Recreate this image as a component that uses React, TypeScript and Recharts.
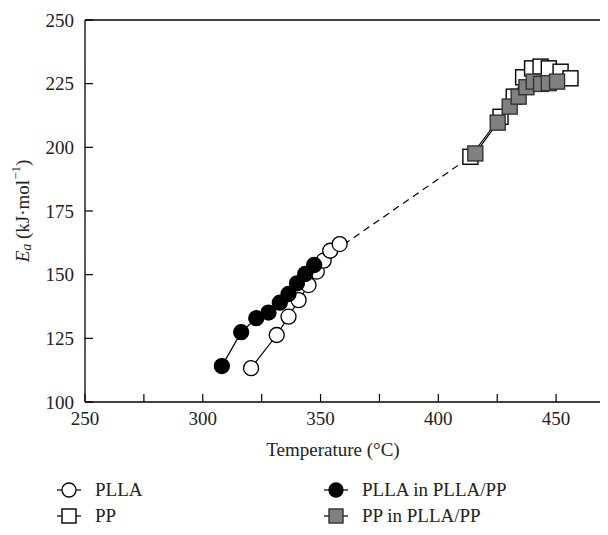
import { ScatterChart, Scatter, XAxis, YAxis, ReferenceLine } from 'recharts';

const FONT = '"Liberation Serif", "DejaVu Serif", serif';

// temperature (°C) / activation energy (kJ/mol)
const pllaT = [320.5, 331.4, 336.4, 340.7, 344.9, 348.4, 351.3, 354.1, 358.1];
const pllaEa = [113.3, 126.3, 133.5, 140.0, 145.9, 151.2, 155.5, 159.4, 162.0];
const ppT = [413.6, 426.4, 432.0, 436.0, 439.8, 443.4, 446.9, 451.9, 456.1];
const ppEa = [196.3, 212.0, 219.9, 227.5, 231.0, 231.7, 231.0, 229.7, 227.1];
const blendPllaT = [308.1, 316.3, 322.7, 327.9, 332.7, 336.4, 340.0, 343.5, 347.3];
const blendPllaEa = [114.1, 127.4, 132.9, 135.1, 139.0, 142.4, 146.6, 150.3, 153.8];
const blendPpT = [415.7, 425.2, 430.3, 434.1, 437.4, 440.5, 443.6, 446.9, 450.4];
const blendPpEa = [197.6, 209.7, 216.0, 219.9, 223.6, 225.8, 224.9, 225.2, 225.8];

const xTicks = [250, 275, 300, 325, 350, 375, 400, 425, 450, 475];
const yTicks = [100, 125, 150, 175, 200, 225, 250];

const toPoints = (xs: number[], ys: number[]) => xs.map((x, i) => ({ x, y: ys[i] }));

const pllaData = toPoints(pllaT, pllaEa);
const ppData = toPoints(ppT, ppEa);
const blendPllaData = toPoints(blendPllaT, blendPllaEa);
const blendPpData = toPoints(blendPpT, blendPpEa);
// dashed bridge between the two blend components
const bridgeData = [blendPllaData[blendPllaData.length - 1], blendPpData[0]];

const R = 7.5;
const FS = 19;

const circle = (fill: string) => (p: any) => (
  <circle cx={p.cx} cy={p.cy} r={R} fill={fill} stroke="#000" strokeWidth={1.3} />
);
const square = (fill: string, stroke: string) => (p: any) => (
  <rect x={p.cx - R} y={p.cy - R} width={R * 2} height={R * 2} fill={fill} stroke={stroke} strokeWidth={1.4} />
);

const lineStyle = { stroke: '#000', strokeWidth: 1.2 };

function YLabel(props: any) {
  const vb = props.viewBox || {};
  const cx = 14;
  const cy = (vb.y ?? 12) + (vb.height ?? 382) / 2;
  return (
    <text
      x={cx}
      y={cy}
      transform={`rotate(-90 ${cx} ${cy})`}
      textAnchor="middle"
      dominantBaseline="central"
      fontFamily={FONT}
      fontSize={FS}
      fill="#222"
    >
      <tspan fontStyle="italic">E</tspan>
      <tspan fontStyle="italic" fontSize={14} dy={4}>a</tspan>
      <tspan dy={-4}>{' (kJ·mol'}</tspan>
      <tspan fontSize={13} dy={-7}>−1</tspan>
      <tspan dy={7}>)</tspan>
    </text>
  );
}

function XLabel() {
  return (
    <text x={325} y={448} textAnchor="middle" fontFamily={FONT} fontSize={FS} fill="#222">
      Temperature (°C)
    </text>
  );
}

function LegendIcon({ kind, fill }: { kind: 'circle' | 'square'; fill: string }) {
  return (
    <svg width={26} height={18} style={{ display: 'block' }}>
      <line x1={1} y1={9} x2={25} y2={9} stroke="#000" strokeWidth={1.2} />
      {kind === 'circle' ? (
        <circle cx={13} cy={9} r={7} fill={fill} stroke="#000" strokeWidth={1.3} />
      ) : (
        <rect x={6} y={2} width={14} height={14} fill={fill} stroke={fill === '#fff' ? '#000' : '#333'} strokeWidth={1.4} />
      )}
    </svg>
  );
}

const legendItems = [
  { name: 'PLLA', kind: 'circle' as const, fill: '#fff', left: 48, top: 473 },
  { name: 'PP', kind: 'square' as const, fill: '#fff', left: 48, top: 499 },
  { name: 'PLLA in PLLA/PP', kind: 'circle' as const, fill: '#000', left: 315, top: 473 },
  { name: 'PP in PLLA/PP', kind: 'square' as const, fill: '#808080', left: 315, top: 499 },
];

export default function App() {
  return (
    <div style={{ position: 'relative', width: 600, height: 527, overflow: 'hidden', background: '#fff' }}>
      <ScatterChart width={620} height={470} margin={{ top: 12, right: 13, bottom: 0, left: 0 }}>
        <XAxis
          type="number"
          dataKey="x"
          domain={[250, 475]}
          ticks={xTicks}
          interval={0}
          tickFormatter={(v) => (v % 50 === 0 ? String(v) : '')}
          tickSize={-8}
          tickMargin={18}
          height={76}
          axisLine={{ stroke: '#000', strokeWidth: 1.3 }}
          tickLine={{ stroke: '#000', strokeWidth: 1.2 }}
          tick={{ fontFamily: FONT, fontSize: FS, fill: '#222' }}
          label={<XLabel />}
        />
        <YAxis
          type="number"
          dataKey="y"
          domain={[100, 250]}
          ticks={yTicks}
          interval={0}
          tickSize={-8}
          tickMargin={19}
          width={77}
          axisLine={{ stroke: '#000', strokeWidth: 1.3 }}
          tickLine={{ stroke: '#000', strokeWidth: 1.2 }}
          tick={{ fontFamily: FONT, fontSize: FS, fill: '#222' }}
          label={<YLabel />}
        />
        <ReferenceLine y={250} stroke="#000" strokeWidth={1.3} />
        <ReferenceLine x={475} stroke="#000" strokeWidth={1.3} />
        <Scatter
          data={bridgeData}
          line={{ ...lineStyle, strokeDasharray: '7 5' }}
          lineType="joint"
          shape={() => <g />}
          isAnimationActive={false}
        />
        <Scatter data={pllaData} line={lineStyle} lineType="joint" shape={circle('#fff')} isAnimationActive={false} />
        <Scatter data={blendPllaData} line={lineStyle} lineType="joint" shape={circle('#000')} isAnimationActive={false} />
        <Scatter data={ppData} line={lineStyle} lineType="joint" shape={square('#fff', '#000')} isAnimationActive={false} />
        <Scatter data={blendPpData} line={lineStyle} lineType="joint" shape={square('#808080', '#333')} isAnimationActive={false} />
      </ScatterChart>
      {legendItems.map((it) => (
        <div
          key={it.name}
          style={{
            position: 'absolute',
            left: it.left,
            top: it.top,
            height: 18,
            display: 'flex',
            alignItems: 'center',
            fontFamily: FONT,
            fontSize: FS,
            color: '#222',
            whiteSpace: 'nowrap',
          }}
        >
          <LegendIcon kind={it.kind} fill={it.fill} />
          <span style={{ marginLeft: 13 }}>{it.name}</span>
        </div>
      ))}
    </div>
  );
}
